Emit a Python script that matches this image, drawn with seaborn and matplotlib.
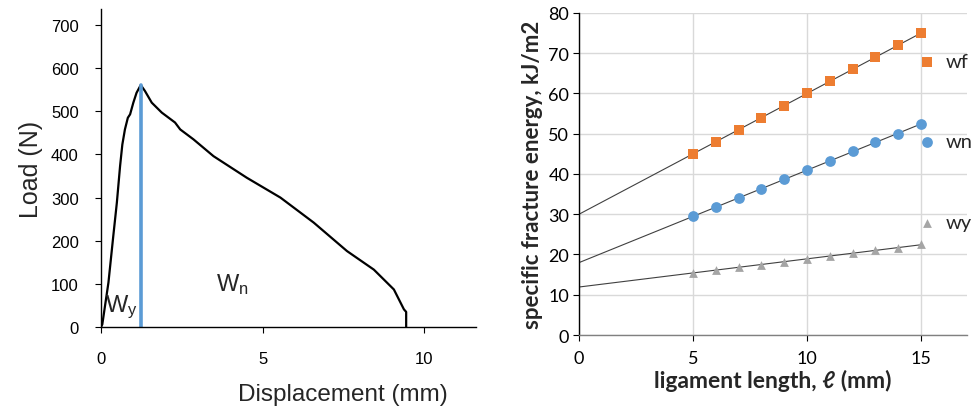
import numpy as np
import pandas as pd
import matplotlib
matplotlib.use('Agg')
import matplotlib.pyplot as plt
import seaborn as sns

# load-displacement record
disp = [0.00, 0.04, 0.23, 0.38, 0.49, 0.59, 0.66, 0.74, 0.83, 0.90, 1.00, 1.10, 1.23,
        1.36, 1.57, 1.88, 2.29, 2.45, 2.86, 3.48, 4.51, 5.55, 6.58, 7.61, 8.44,
        9.06, 9.37, 9.44, 9.44]
load = [0, 6, 103, 211, 288, 373, 423, 458, 485, 493, 520, 543, 561,
        547, 520, 497, 474, 458, 435, 396, 346, 300, 242, 176, 133,
        87, 41, 35, 0]
peak_x = 1.23
peak_load = 561

# specific fracture energy vs ligament length
lig = [5, 6, 7, 8, 9, 10, 11, 12, 13, 14, 15]
wf = [45, 48, 51, 54, 57, 60, 63, 66, 69, 72, 75]
wn = [29.5, 31.7, 34.0, 36.3, 38.7, 41.0, 43.3, 45.6, 47.9, 50.0, 52.4]
wy = [15.5, 16.1, 16.8, 17.5, 18.2, 18.9, 19.6, 20.3, 21.0, 21.7, 22.5]

sns.set_style('white')
plt.rcParams['font.family'] = ['Liberation Sans', 'DejaVu Sans']
plt.rcParams['mathtext.fontset'] = 'custom'
plt.rcParams['mathtext.rm'] = 'Liberation Sans'
plt.rcParams['mathtext.it'] = 'Liberation Sans'

fig = plt.figure(figsize=(9.74, 4.14), dpi=100)

# ---- left panel: load-displacement curve
ax = fig.add_axes([0.1037, 0.2077, 0.385, 0.768])
curve = pd.DataFrame({'disp': disp, 'load': load})
sns.lineplot(data=curve, x='disp', y='load', estimator=None, sort=False,
             color='black', lw=1.6, ax=ax)
ax.plot([peak_x, peak_x], [0, peak_load], color='#5B9BD5', lw=2.6)
ax.set_xlim(0, 11.6)
ax.set_ylim(0, 737)
ax.set_xticks([0, 5, 10])
ax.set_yticks(range(0, 701, 100))
ax.spines[['top', 'right']].set_visible(False)
for s in ['left', 'bottom']:
    ax.spines[s].set_color('black')
    ax.spines[s].set_linewidth(1.0)
ax.tick_params(axis='y', left=True, direction='out', length=4, width=0.8, pad=12,
               labelsize=12, colors='black')
ax.tick_params(axis='x', bottom=True, direction='out', length=4, width=0.8, pad=13,
               labelsize=12, colors='black')
ax.set_ylabel('Load (N)', fontsize=18, labelpad=6)
ax.set_xlabel('Displacement (mm)', fontsize=17.5)
ax.xaxis.set_label_coords(0.645, -0.175)
ax.text(0.12, 36, r'W$_\mathrm{y}$', fontsize=17, va='baseline')
ax.text(3.56, 85, r'W$_\mathrm{n}$', fontsize=17, va='baseline')

# ---- right panel: specific fracture energy
rfont = ['Lato', 'DejaVu Sans']
ax2 = fig.add_axes([0.5945, 0.1884, 0.398, 0.778])
series = [('wf', wf, '#ED7D31', 's', 45),
          ('wn', wn, '#5B9BD5', 'o', 60),
          ('wy', wy, '#A5A5A5', '^', 40)]
xfit = np.array([0, 15])
for name, vals, col, mk, size in series:
    a, b = np.polyfit(lig, vals, 1)
    ax2.plot(xfit, a * xfit + b, color='#404040', lw=0.8, zorder=2)
for name, vals, col, mk, size in series:
    sns.scatterplot(x=lig, y=vals, color=col, marker=mk, s=size, linewidth=0,
                    label=name, ax=ax2, zorder=3)
ax2.set_xlim(0, 17)
ax2.set_ylim(0, 80)
ax2.set_xticks([0, 5, 10, 15])
ax2.set_yticks(range(0, 81, 10))
ax2.grid(True, color='#d9d9d9', lw=1.0)
ax2.set_axisbelow(True)
ax2.spines[['top', 'right']].set_visible(False)
ax2.spines['left'].set_color('black')
ax2.spines['bottom'].set_color('#808080')
ax2.spines['left'].set_linewidth(1.0)
ax2.spines['bottom'].set_linewidth(1.0)
ax2.tick_params(axis='both', bottom=True, left=True, direction='out', length=4,
                width=0.8, labelsize=13, colors='black')
ax2.tick_params(axis='x', pad=7)
ax2.tick_params(axis='y', pad=3)
for lab in ax2.get_xticklabels() + ax2.get_yticklabels():
    lab.set_family(rfont)
ax2.set_xlabel('ligament length, ℓ (mm)', fontsize=16.5, fontweight='bold',
               family=rfont, labelpad=2)
ax2.set_ylabel('specific fracture energy, kJ/m2', fontsize=16, fontweight='bold',
               family=rfont, labelpad=4)
ax2.legend(loc='upper left', bbox_to_anchor=(0.872, 0.876), frameon=False,
           handlelength=1.0, handletextpad=0.4, borderpad=0, borderaxespad=0,
           labelspacing=3.15, prop={'family': rfont, 'size': 14.5})

fig.savefig('out.png', dpi=100)
